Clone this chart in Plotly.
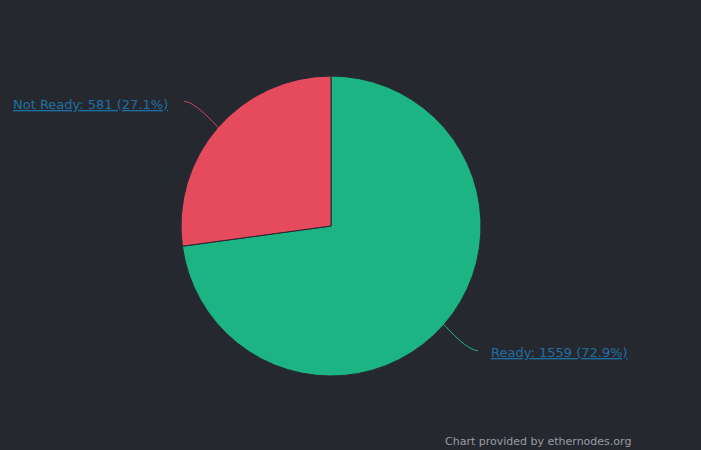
import math
import plotly.graph_objects as go

labels = ["Ready", "Not Ready"]
values = [1559, 581]
colors = ["#1cb482", "#e64a5d"]
line_colors = ["#1cb482", "#c9475a"]

W, H = 701, 450
cx, cy, R = 331, 226, 150
ml, mt = cx - R, cy - R
mr, mb = W - (cx + R), H - (cy + R)

def to_paper(px, py):
    return (px - ml) / (2 * R), ((mt + 2 * R) - py) / (2 * R)

total = sum(values)
fig = go.Figure(go.Pie(
    labels=labels, values=values, sort=False, direction="clockwise",
    rotation=0, marker=dict(colors=colors, line=dict(color="#262830", width=1)),
    textinfo="none", hoverinfo="label+value+percent", showlegend=False,
))

annotations = []
shapes = []
cum = 0
for i, (lab, v) in enumerate(zip(labels, values)):
    frac = v / total
    mid = (cum + frac / 2) * 2 * math.pi
    cum += frac
    # clockwise from 12 o'clock, screen coordinates (y down)
    dx, dy = math.sin(mid), -math.cos(mid)
    ex, ey = cx + R * dx, cy + R * dy
    side = -1 if dx < 0 else 1
    tx, ty = ex + side * 34, ey + (-26 if dy < 0 else 26)
    t = abs((ty - ey) / dy)
    kx, ky = ex + t * dx * 0.8, ty
    p0 = to_paper(ex, ey); p1 = to_paper(kx, ky); p2 = to_paper(tx, ty)
    shapes.append(dict(type="path", xref="paper", yref="paper",
                       path=f"M {p0[0]},{p0[1]} Q {p1[0]},{p1[1]} {p2[0]},{p2[1]}",
                       line=dict(color=line_colors[i], width=1)))
    txt = f"<u>{lab}: {v} ({frac*100:.1f}%)</u>"
    lx, ly = to_paper(tx + side * (14 if side < 0 else 11), ty + (3 if side < 0 else 2))
    annotations.append(dict(x=lx, y=ly, xref="paper", yref="paper", text=txt,
                            showarrow=False, xanchor="right" if side < 0 else "left",
                            yanchor="middle",
                            font=dict(family="DejaVu Sans", size=13, color="#1f70a2")))

fx, fy = to_paper(633, 441)
annotations.append(dict(x=fx, y=fy, xref="paper", yref="paper", text="Chart provided by ethernodes.org",
                        showarrow=False, xanchor="right", yanchor="middle",
                        font=dict(family="DejaVu Sans", size=11, color="#9a9ca2")))

fig.update_layout(
    width=W, height=H, paper_bgcolor="#262830", plot_bgcolor="#262830",
    margin=dict(l=ml, r=mr, t=mt, b=mb), annotations=annotations, shapes=shapes,
)
fig.write_html("out.html", config={"displayModeBar": False},
               post_script="document.body.style.margin='0';document.body.style.background='#262830';")
